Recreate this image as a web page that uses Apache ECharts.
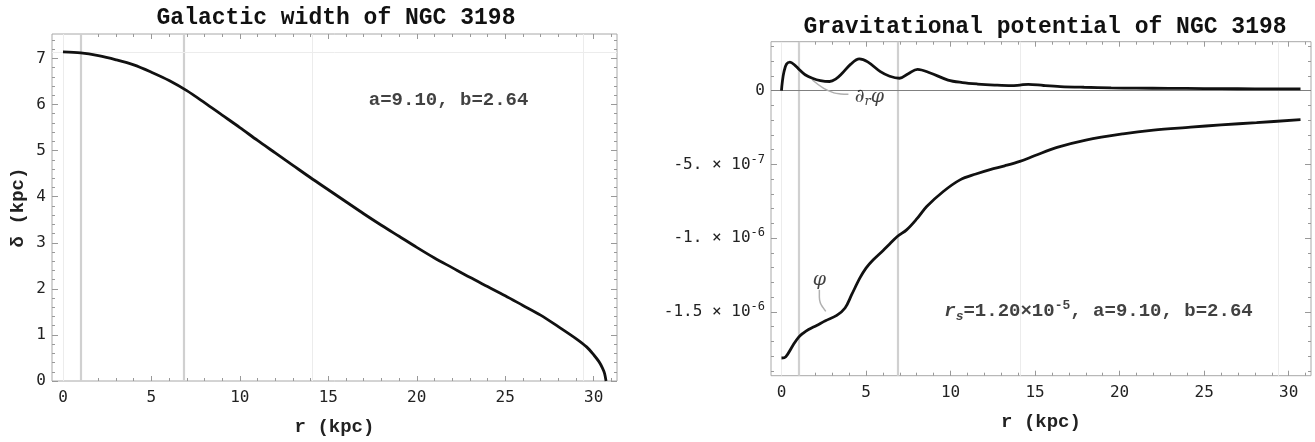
<!DOCTYPE html>
<html>
<head>
<meta charset="utf-8">
<script src="https://cdn.jsdelivr.net/npm/echarts@6/dist/echarts.min.js"></script>
<style>
  html, body { margin: 0; padding: 0; background: #fff; }
  #chart { width: 1315px; height: 442px; }
</style>
</head>
<body>
<div id="chart"></div>
<script>
// Galactic width delta(r) of NGC 3198, kpc
const widthR = [0, 1, 2, 3, 4, 5, 6, 7, 8, 9, 10, 11, 12, 13, 14, 15, 16, 17, 18, 19, 20,
  21, 22, 23, 24, 25, 26, 27, 28, 29, 29.6, 30, 30.3, 30.5, 30.62, 30.7];
const widthDelta = [7.14, 7.12, 7.06, 6.97, 6.86, 6.70, 6.52, 6.30, 6.04, 5.77, 5.50,
  5.22, 4.95, 4.68, 4.41, 4.15, 3.89, 3.63, 3.38, 3.14, 2.90,
  2.67, 2.46, 2.25, 2.05, 1.85, 1.64, 1.43, 1.18, 0.92, 0.74, 0.57, 0.42, 0.28, 0.16, 0];

// Gravitational potential phi(r)
const potR = [0, 0.25, 0.7, 1.02, 1.29, 1.6, 2.08, 2.6, 3.27, 3.76, 4.15, 4.64, 5.0, 5.43,
  6.0, 6.4, 6.85, 7.4, 8.0, 8.59, 9.57, 10.56, 11.5, 12.34, 13.2, 14.1, 15.0, 16.3,
  18.0, 20.2, 22.0, 24.2, 26.0, 28.1, 30.7];
const potPhi = [-1.813e-6, -1.805e-6, -1.723e-6, -1.671e-6, -1.644e-6, -1.62e-6, -1.592e-6,
  -1.56e-6, -1.524e-6, -1.474e-6, -1.384e-6, -1.27e-6, -1.203e-6, -1.147e-6,
  -1.085e-6, -1.04e-6, -0.989e-6, -0.944e-6, -0.87e-6, -0.786e-6, -0.684e-6, -0.605e-6,
  -0.565e-6, -0.535e-6, -0.51e-6, -0.48e-6, -0.44e-6, -0.385e-6,
  -0.335e-6, -0.293e-6, -0.268e-6, -0.248e-6, -0.232e-6, -0.217e-6, -0.197e-6];

// Radial derivative of phi (rescaled onto the same axis)
const derivR = [0, 0.05, 0.15, 0.3, 0.5, 0.8, 1.08, 1.4, 1.83, 2.3, 2.84, 3.2, 3.59, 4.1,
  4.6, 5.1, 5.85, 6.4, 6.98, 7.5, 8.05, 8.8, 9.85, 10.7, 11.6, 12.6, 13.6, 14.1, 14.6,
  15.5, 16.5, 17.9, 19.5, 21, 22.9, 25, 27, 29, 30.7];
const derivVal = [0, 0.6e-7, 1.3e-7, 1.8e-7, 1.93e-7, 1.72e-7, 1.40e-7, 1.08e-7, 0.84e-7,
  0.68e-7, 0.62e-7, 0.78e-7, 1.18e-7, 1.8e-7, 2.15e-7, 1.95e-7, 1.29e-7, 0.98e-7, 0.84e-7,
  1.15e-7, 1.45e-7, 1.2e-7, 0.72e-7, 0.55e-7, 0.45e-7, 0.38e-7, 0.34e-7, 0.38e-7, 0.43e-7,
  0.35e-7, 0.28e-7, 0.23e-7, 0.19e-7, 0.17e-7, 0.16e-7, 0.14e-7, 0.13e-7, 0.12e-7, 0.115e-7];

// Callout leader lines (r, value)
const leaderDerivR = [1.83, 2.5, 3.1, 3.5, 3.96];
const leaderDerivV = [0.72e-7, 0.15e-7, -0.15e-7, -0.22e-7, -0.24e-7];
const leaderPhiR = [2.24, 2.24, 2.3, 2.45, 2.62];
const leaderPhiV = [-1.35e-6, -1.40e-6, -1.44e-6, -1.47e-6, -1.497e-6];

// Reference radii
const markerRadii = [1.0, 6.85];
const faintRadii = [0, 14.1, 29.4];

// Tick labels
const rTicks = [0, 5, 10, 15, 20, 25, 30];
const widthTicks = [0, 1, 2, 3, 4, 5, 6, 7];
const potTicks = [0, -5e-7, -1e-6, -1.5e-6];
const potTickMant = ['0', '-5. × 10', '-1. × 10', '-1.5 × 10'];
const potTickExp = ['', '-7', '-6', '-6'];

const R_MIN = -0.62, R_MAX = 31.32;
const W_MIN = 0, W_MAX = 7.53;
const P_MIN = -1.933e-6, P_MAX = 3.32e-7;

const MONO = "'Liberation Mono', 'Courier New', monospace";
const TICKFONT = "'DejaVu Sans Mono', monospace";
const FRAME = '#a8a8a8';
const TICK = '#999';
const CLEAR = 'rgba(0,0,0,0)';

function steps(min, max, step) {
  const out = [];
  const start = Math.ceil(min / step - 1e-9);
  for (let k = start; k * step <= max + 1e-12; k++) out.push(+(k * step).toPrecision(10));
  return out;
}

function frameAxis(gridIndex, position, min, max, values, len, labelCfg) {
  return {
    type: 'value', gridIndex, position, min, max,
    axisLine: { show: false, onZero: false },
    splitLine: { show: false },
    axisTick: { show: true, inside: true, length: len, customValues: values,
      lineStyle: { color: TICK, width: 1 } },
    axisLabel: labelCfg ? Object.assign({ show: true, customValues: values }, labelCfg)
                        : { show: false }
  };
}

const xTickLabel = { fontFamily: TICKFONT, fontSize: 16, color: '#222', margin: 9 };
const nameStyle = { fontFamily: MONO, fontWeight: 'bold', fontSize: 19, color: '#222' };

const rMinor = steps(0, 31, 1);
const wMinor = steps(0, 7.4, 0.2);
const pMinor = steps(-1.9e-6, 3.0e-7, 1e-7);

const xAxes = [];
const yAxes = [];
[0, 1].forEach(g => {
  const bottom = frameAxis(g, 'bottom', R_MIN, R_MAX, rTicks, 5, xTickLabel);
  bottom.name = 'r (kpc)';
  bottom.nameLocation = 'middle';
  bottom.nameGap = 37;
  bottom.nameTextStyle = nameStyle;
  xAxes.push(bottom,
    frameAxis(g, 'bottom', R_MIN, R_MAX, rMinor, 3),
    frameAxis(g, 'top', R_MIN, R_MAX, rTicks, 5),
    frameAxis(g, 'top', R_MIN, R_MAX, rMinor, 3));
});

// width chart y axes
const wLeft = frameAxis(0, 'left', W_MIN, W_MAX, widthTicks, 6,
  { fontFamily: TICKFONT, fontSize: 16, color: '#222', margin: 6 });
wLeft.name = 'δ (kpc)';
wLeft.nameLocation = 'middle';
wLeft.nameGap = 24;
wLeft.nameRotate = 90;
wLeft.nameTextStyle = nameStyle;
yAxes.push(wLeft,
  frameAxis(0, 'left', W_MIN, W_MAX, wMinor, 3),
  frameAxis(0, 'right', W_MIN, W_MAX, widthTicks, 6),
  frameAxis(0, 'right', W_MIN, W_MAX, wMinor, 3));

// potential chart y axes
function potLabel(v) {
  let best = 0;
  potTicks.forEach((t, i) => { if (Math.abs(t - v) < Math.abs(potTicks[best] - v)) best = i; });
  return potTickExp[best] ? '{m|' + potTickMant[best] + '}{e|' + potTickExp[best] + '}'
                          : '{m|' + potTickMant[best] + '}';
}
yAxes.push(
  frameAxis(1, 'left', P_MIN, P_MAX, potTicks, 6, {
    margin: 6, formatter: potLabel,
    rich: {
      m: { fontFamily: TICKFONT, fontSize: 16, color: '#222', lineHeight: 22 },
      e: { fontFamily: TICKFONT, fontSize: 12, color: '#222', lineHeight: 14, verticalAlign: 'top' }
    }
  }),
  frameAxis(1, 'left', P_MIN, P_MAX, pMinor, 3),
  frameAxis(1, 'right', P_MIN, P_MAX, potTicks, 6),
  frameAxis(1, 'right', P_MIN, P_MAX, pMinor, 3));

const zip = (a, b) => a.map((v, i) => [v, b[i]]);
const noSym = ['none', 'none'];

// background reference lines, kept beneath the curves
function refSeries(xIdx, yIdx, extraY) {
  const data = [];
  faintRadii.forEach(r => data.push({ xAxis: r, lineStyle: { color: '#ececec', width: 1, type: 'solid' } }));
  markerRadii.forEach(r => data.push({ xAxis: r, lineStyle: { color: '#d0d0d0', width: 2.2, type: 'solid' } }));
  extraY.forEach(e => data.push({ yAxis: e.v, lineStyle: { color: e.c, width: 1, type: 'solid' } }));
  return {
    type: 'line', xAxisIndex: xIdx, yAxisIndex: yIdx, data: [], z: 1, silent: true,
    markLine: { z: 1, silent: true, symbol: noSym, label: { show: false }, animation: false, data }
  };
}

const curveStyle = { color: '#111', width: 2.8 };

const option = {
  animation: false,
  backgroundColor: '#fff',
  grid: [
    { left: 52, top: 34, width: 565, height: 349.5, show: true, borderColor: FRAME, borderWidth: 1, containLabel: false },
    { left: 771, top: 41.7, width: 540, height: 334, show: true, borderColor: FRAME, borderWidth: 1, containLabel: false }
  ],
  xAxis: xAxes,
  yAxis: yAxes,
  graphic: [
    { type: 'text', x: 336, y: 18, style: { text: 'Galactic width of NGC 3198', font: 'bold 23px ' + MONO,
      fill: '#111', textAlign: 'center', textVerticalAlign: 'middle' } },
    { type: 'text', x: 1045, y: 27, style: { text: 'Gravitational potential of NGC 3198', font: 'bold 23px ' + MONO,
      fill: '#111', textAlign: 'center', textVerticalAlign: 'middle' } }
  ],
  series: [
    refSeries(0, 0, [{ v: widthDelta[0], c: '#ececec' }]),
    refSeries(4, 4, [{ v: Math.min(...potPhi), c: '#ececec' }, { v: 0, c: '#808080' }]),
    {
      type: 'line', xAxisIndex: 0, yAxisIndex: 0, data: zip(widthR, widthDelta), z: 3,
      showSymbol: false, smooth: 0.3, lineStyle: curveStyle
    },
    {
      type: 'scatter', xAxisIndex: 0, yAxisIndex: 0, data: [[21.8, 6.09]], z: 4,
      symbolSize: 1, itemStyle: { color: CLEAR }, silent: true,
      label: { show: true, position: 'inside', formatter: 'a=9.10, b=2.64',
        fontFamily: MONO, fontWeight: 'bold', fontSize: 19, color: '#111' }
    },
    {
      type: 'line', xAxisIndex: 4, yAxisIndex: 4, data: zip(leaderDerivR, leaderDerivV), z: 2,
      showSymbol: false, smooth: 0.4, lineStyle: { color: '#b0b0b0', width: 1.5 }, silent: true
    },
    {
      type: 'line', xAxisIndex: 4, yAxisIndex: 4, data: zip(leaderPhiR, leaderPhiV), z: 2,
      showSymbol: false, smooth: 0.4, lineStyle: { color: '#b0b0b0', width: 1.5 }, silent: true
    },
    {
      type: 'line', xAxisIndex: 4, yAxisIndex: 4, data: zip(derivR, derivVal), z: 3,
      showSymbol: false, smooth: 0.35, lineStyle: curveStyle
    },
    {
      type: 'line', xAxisIndex: 4, yAxisIndex: 4, data: zip(potR, potPhi), z: 3,
      showSymbol: false, smooth: 0.35, lineStyle: curveStyle
    },
    {
      type: 'scatter', xAxisIndex: 4, yAxisIndex: 4, z: 4,
      data: [
        { value: [5.2, -0.43e-7], label: { formatter: '{d|∂}{s|r}{d|φ}' } },
        { value: [2.24, -1.283e-6], label: { formatter: '{d|φ}' } },
        { value: [18.75, -1.497e-6], label: { formatter: '{i|r}{s2|s}{t|=1.20×10}{e|-5}{t|, a=9.10, b=2.64}' } }
      ],
      symbolSize: 1, itemStyle: { color: CLEAR }, silent: true,
      label: {
        show: true, position: 'inside',
        rich: {
          d: { fontFamily: "'DejaVu Serif', serif", fontStyle: 'italic', fontSize: 19, color: '#111', lineHeight: 22 },
          s: { fontFamily: "'DejaVu Serif', serif", fontStyle: 'italic', fontSize: 13, color: '#111', lineHeight: 13, verticalAlign: 'bottom' },
          i: { fontFamily: MONO, fontStyle: 'italic', fontWeight: 'bold', fontSize: 19, color: '#111', lineHeight: 24 },
          s2: { fontFamily: MONO, fontStyle: 'italic', fontWeight: 'bold', fontSize: 13, color: '#111', lineHeight: 13, verticalAlign: 'bottom' },
          t: { fontFamily: MONO, fontWeight: 'bold', fontSize: 19, color: '#111', lineHeight: 24 },
          e: { fontFamily: MONO, fontWeight: 'bold', fontSize: 13, color: '#111', lineHeight: 13, verticalAlign: 'top' }
        }
      }
    }
  ]
};

const chart = echarts.init(document.getElementById('chart'), null, { renderer: 'canvas' });
chart.setOption(option);
</script>
</body>
</html>
